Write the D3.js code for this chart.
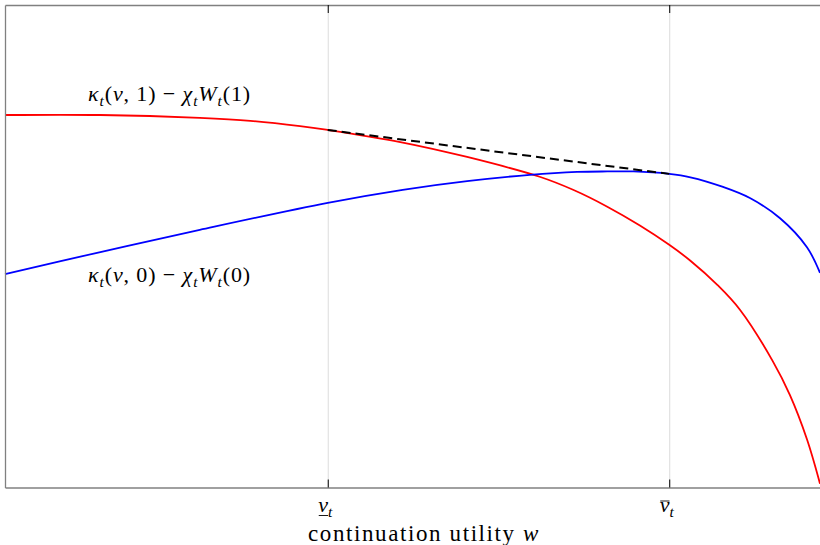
<!DOCTYPE html>
<html>
<head>
<meta charset="utf-8">
<script src="https://cdn.jsdelivr.net/npm/d3@7"></script>
<style>
	body { margin: 0; background: #fff; }
	svg { display: block; }
	.math { font-family: "Liberation Serif", "DejaVu Serif", serif; fill: #000; }
</style>
</head>
<body>
<div id="chart"></div>
<script>

// continuation utility (x) and values of the two curves
var wRed  = [0, 1.17, 2.39, 3.01, 3.62, 3.96, 4.85, 5.67, 6.56, 6.97, 7.39, 7.79, 8.15, 8.41, 8.74, 9.02, 9.42, 9.63, 9.84, 10];
var kappa1 = [7.72, 7.72, 7.66, 7.60, 7.49, 7.41, 7.16, 6.85, 6.44, 6.17, 5.82, 5.43, 5.03, 4.70, 4.20, 3.68, 2.62, 1.92, 1.00, 0.08];

var wBlue = [0, 1.17, 2.39, 3.96, 4.88, 5.67, 6.44, 7.02, 7.39, 7.71, 8.15, 8.41, 8.81, 9.14, 9.51, 9.84, 10];
var kappa0 = [4.42, 4.88, 5.34, 5.90, 6.17, 6.35, 6.48, 6.54, 6.55, 6.55, 6.50, 6.43, 6.23, 6.00, 5.58, 4.98, 4.45];

// the concave hull between the two thresholds
var vLow = 3.96, vHigh = 8.15;
var hull = [[vLow, 7.41], [vHigh, 6.50]];

var tickValues = [vLow, vHigh];
var tickLabels = [{ v: "v", sub: "t", mark: "under" }, { v: "v", sub: "t", mark: "over" }];

var W = 820, H = 545;
var margin = { top: 5, right: 0, bottom: 57.5, left: 5 };
var iw = W - margin.left - margin.right,
	ih = H - margin.top - margin.bottom;

var svg = d3.select("#chart").append("svg")
	.attr("width", W)
	.attr("height", H);

var g = svg.append("g")
	.attr("transform", "translate(" + margin.left + "," + margin.top + ")");

var x = d3.scaleLinear().domain([0, 10]).range([0, iw]);
var y = d3.scaleLinear().domain([0, 10]).range([ih, 0]);

// vertical grid lines
g.append("g")
	.attr("transform", "translate(0," + ih + ")")
	.call(d3.axisBottom(x).tickValues(tickValues).tickSize(-ih).tickFormat(""))
	.call(function(a){
		a.select(".domain").remove();
		a.selectAll("line").attr("stroke", "#dcdcdc").attr("stroke-width", 1);
	});

var line = d3.line()
	.x(function(d){ return x(d[0]); })
	.y(function(d){ return y(d[1]); })
	.curve(d3.curveCatmullRom.alpha(0.5));

g.append("path")
	.datum(d3.zip(wRed, kappa1))
	.attr("d", line)
	.attr("fill", "none")
	.attr("stroke", "#ff0000")
	.attr("stroke-width", 1.8);

g.append("path")
	.datum(d3.zip(wBlue, kappa0))
	.attr("d", line)
	.attr("fill", "none")
	.attr("stroke", "#0000ff")
	.attr("stroke-width", 1.8);

g.append("path")
	.datum(hull)
	.attr("d", d3.line().x(function(d){ return x(d[0]); }).y(function(d){ return y(d[1]); }))
	.attr("fill", "none")
	.attr("stroke", "#000")
	.attr("stroke-width", 2)
	.attr("stroke-dasharray", "9,5");

// frame: bottom, top, left in grey, ticks inside in black
g.append("g")
	.attr("transform", "translate(0," + ih + ")")
	.call(d3.axisBottom(x).tickValues(tickValues).tickSizeInner(-8).tickSizeOuter(0).tickFormat(""))
	.call(function(a){
		a.select(".domain").attr("stroke", "#808080").attr("stroke-width", 1.3);
		a.selectAll(".tick line").attr("stroke", "#000");
	});

g.append("g")
	.call(d3.axisTop(x).tickValues(tickValues).tickSizeInner(-8).tickSizeOuter(0).tickFormat(""))
	.call(function(a){
		a.select(".domain").attr("stroke", "#808080").attr("stroke-width", 1.3);
		a.selectAll(".tick line").attr("stroke", "#000");
	});

g.append("g")
	.call(d3.axisLeft(y).tickValues([]).tickSizeOuter(0))
	.call(function(a){
		a.select(".domain").attr("stroke", "#808080").attr("stroke-width", 1.3);
	});

// small helper: math text built from pieces, subscripts shifted down.
// width (optional) spreads the letters to mimic the wider TeX font
function mathText(parent, px, py, pieces, size, width) {
	var t = parent.append("text")
		.attr("class", "math")
		.attr("x", px)
		.attr("y", py)
		.style("font-size", size + "px");
	var shifted = false;
	pieces.forEach(function(p){
		var s = t.append("tspan").text(p.t);
		if (p.i) s.style("font-style", "italic");
		if (p.sub) {
			s.style("font-size", (size * 0.7) + "px").attr("dy", shifted ? 0 : size * 0.22);
			shifted = true;
		} else if (shifted) {
			s.attr("dy", -size * 0.22);
			shifted = false;
		}
	});
	if (width) {
		var n = d3.sum(pieces, function(p){ return p.t.length; });
		var len = t.node().getComputedTextLength();
		t.style("letter-spacing", ((width - len) / n) + "px");
	}
	return t;
}

var label1 = [
	{t: "κ", i: true}, {t: "t", i: true, sub: true}, {t: "("}, {t: "v", i: true}, {t: ", 1) − "},
	{t: "χ", i: true}, {t: "t", i: true, sub: true}, {t: "W", i: true}, {t: "t", i: true, sub: true}, {t: "(1)"}
];
var label0 = [
	{t: "κ", i: true}, {t: "t", i: true, sub: true}, {t: "("}, {t: "v", i: true}, {t: ", 0) − "},
	{t: "χ", i: true}, {t: "t", i: true, sub: true}, {t: "W", i: true}, {t: "t", i: true, sub: true}, {t: "(0)"}
];

mathText(svg, 88, 101, label1, 22, 163);
mathText(svg, 88, 282, label0, 22, 163);

// tick labels with under/over bar
tickLabels.forEach(function(tl, i){
	var cx = margin.left + x(tickValues[i]);
	var t = mathText(svg, cx - 9.5, 512, [{t: tl.v, i: true}, {t: tl.sub, i: true, sub: true}], 22);
	var e = t.node().getExtentOfChar(0);
	var by = tl.mark === "under" ? 515.5 : 501;
	svg.append("line")
		.attr("x1", e.x + 0.5).attr("x2", e.x + e.width)
		.attr("y1", by).attr("y2", by)
		.attr("stroke", "#000").attr("stroke-width", 0.9);
});

// axis title
mathText(svg, 308, 541, [{t: "continuation utility "}, {t: "w", i: true}], 23, 232);

</script>
</body>
</html>
